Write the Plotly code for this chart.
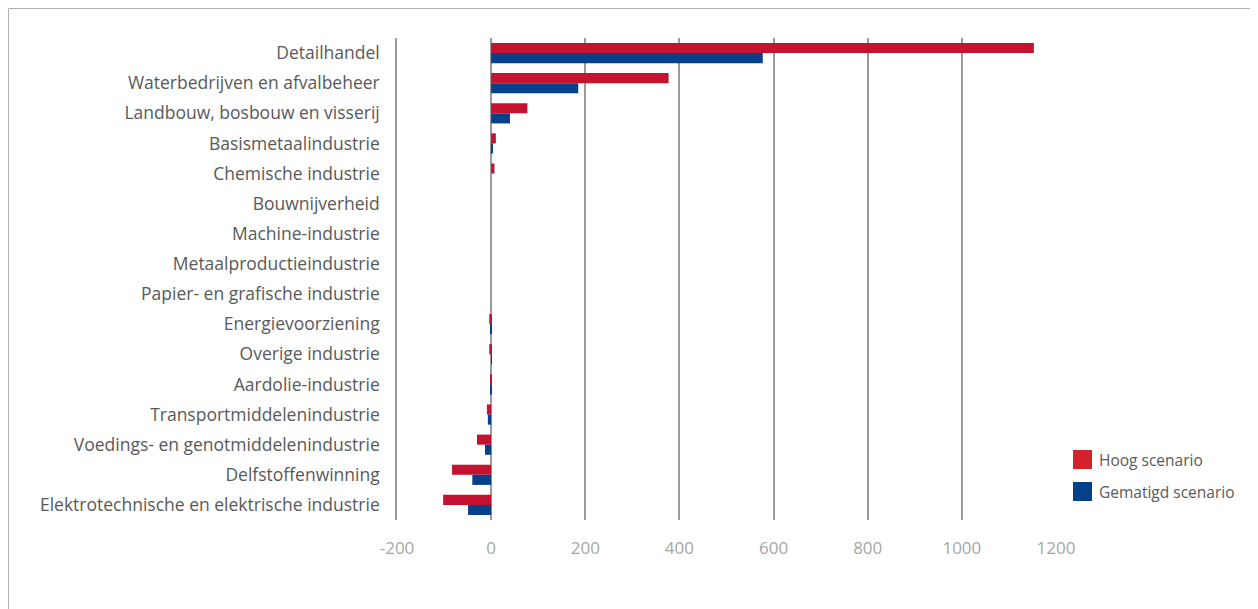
import plotly.graph_objects as go

categories = [
    "Detailhandel",
    "Waterbedrijven en afvalbeheer",
    "Landbouw, bosbouw en visserij",
    "Basismetaalindustrie",
    "Chemische industrie",
    "Bouwnijverheid",
    "Machine-industrie",
    "Metaalproductieindustrie",
    "Papier- en grafische industrie",
    "Energievoorziening",
    "Overige industrie",
    "Aardolie-industrie",
    "Transportmiddelenindustrie",
    "Voedings- en genotmiddelenindustrie",
    "Delfstoffenwinning",
    "Elektrotechnische en elektrische industrie",
]
hoog = [1153, 377, 77, 10, 7, 0, 0, 0, 0, -4, -4, -1, -9, -30, -83, -102]
gematigd = [577, 185, 40, 4, 0, 0, 0, 0, 0, -1.5, 1, -1, -7, -13, -40, -49]
series_names = ["Hoog scenario", "Gematigd scenario"]
tick_vals = [-200, 0, 200, 400, 600, 800, 1000, 1200]
tick_text = ["-200", "0", "200", "400", "600", "800", "1000", "1200"]

RED = "#C41230"
BLUE = "#063F8A"
LEG_RED = "#D2232A"
LEG_BLUE = "#063F8A"

fig = go.Figure()
fig.add_trace(go.Bar(y=categories, x=hoog, orientation="h", name=series_names[0],
                     marker=dict(color=RED, line=dict(width=0))))
fig.add_trace(go.Bar(y=categories, x=gematigd, orientation="h", name=series_names[1],
                     marker=dict(color=BLUE, line=dict(width=0))))

# page has an 8px body margin, so figure coords = screen coords - 8
OFF = 8
W, H = 1258, 609
L, R, T, B = 397 - OFF, 1056 - OFF, 38 - OFF, 520 - OFF
pw, ph = R - L, B - T


def px(x):
    return (x - OFF - L) / pw


def py(y):
    return (B - (y - OFF)) / ph


def fx(x):
    # figure-pixel x to paper
    return (x - L) / pw


def fy(y):
    return (B - y) / ph


shapes = [
    dict(type="rect", xref="paper", yref="paper",
         x0=fx(0.5), x1=fx(1500), y0=fy(900), y1=fy(0.5),
         line=dict(color="#b0b0b0", width=1), fillcolor="rgba(0,0,0,0)",
         layer="below"),
]
annotations = []
leg_colors = [LEG_RED, LEG_BLUE]
leg_tops = [450, 482]
for name, col, top in zip(series_names, leg_colors, leg_tops):
    shapes.append(dict(type="rect", xref="paper", yref="paper",
                       x0=px(1073), x1=px(1092), y0=py(top + 19), y1=py(top),
                       line=dict(width=0), fillcolor=col))
    annotations.append(dict(xref="paper", yref="paper", x=px(1097), y=py(top + 10),
                            xanchor="left", yanchor="middle", showarrow=False,
                            text=name, font=dict(size=15.5, color="#595959")))

fig.update_layout(
    width=W, height=H,
    margin=dict(l=L, r=W - R, t=T, b=H - B, pad=0),
    barmode="group",
    bargap=0.33,
    bargroupgap=0,
    plot_bgcolor="white",
    paper_bgcolor="white",
    font=dict(family="Open Sans, Lato, sans-serif", color="#595959", size=17.5),
    showlegend=False,
    xaxis=dict(
        range=[-200, 1200],
        tickvals=tick_vals,
        ticktext=tick_text,
        showgrid=True,
        gridcolor="#9a9a9a",
        gridwidth=1.5,
        zeroline=True,
        zerolinecolor="#9a9a9a",
        zerolinewidth=1.5,
        tickfont=dict(size=17, color="#a6a6a6"),
        ticklabelstandoff=16,
        showline=False,
    ),
    yaxis=dict(
        autorange="reversed",
        showgrid=False,
        tickfont=dict(size=17.5, color="#595959"),
        ticklabelstandoff=12,
        showline=True,
        linecolor="#9a9a9a",
        linewidth=1.5,
    ),
    shapes=shapes,
    annotations=annotations,
)

fig.write_html("out.html")
